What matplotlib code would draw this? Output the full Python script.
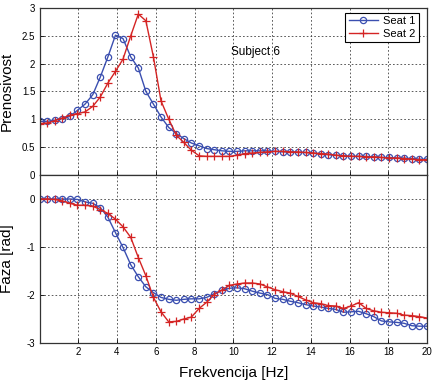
import matplotlib
matplotlib.use("Agg")
import matplotlib.pyplot as plt

freq = [0.00, 0.39, 0.78, 1.18, 1.57, 1.96, 2.35, 2.75, 3.14, 3.53, 3.92, 4.31, 4.71,
        5.10, 5.49, 5.88, 6.27, 6.67, 7.06, 7.45, 7.84, 8.24, 8.63, 9.02, 9.41, 9.80,
        10.20, 10.59, 10.98, 11.37, 11.76, 12.16, 12.55, 12.94, 13.33, 13.73, 14.12,
        14.51, 14.90, 15.29, 15.69, 16.08, 16.47, 16.86, 17.25, 17.65, 18.04, 18.43,
        18.82, 19.22, 19.61, 20.00]

seat1_mag = [0.96, 0.96, 0.98, 1.01, 1.05, 1.16, 1.27, 1.44, 1.76, 2.12, 2.51, 2.45, 2.12,
             1.92, 1.50, 1.27, 1.04, 0.85, 0.74, 0.65, 0.57, 0.52, 0.47, 0.45, 0.43,
             0.42, 0.42, 0.43, 0.43, 0.43, 0.43, 0.42, 0.41, 0.41, 0.40, 0.40, 0.39,
             0.37, 0.36, 0.35, 0.34, 0.33, 0.33, 0.33, 0.32, 0.31, 0.31, 0.30, 0.30,
             0.29, 0.28, 0.28]
seat2_mag = [0.92, 0.93, 0.97, 1.02, 1.07, 1.10, 1.13, 1.23, 1.40, 1.65, 1.86, 2.08, 2.50,
             2.89, 2.77, 2.12, 1.33, 1.00, 0.71, 0.58, 0.44, 0.34, 0.33, 0.33, 0.33,
             0.33, 0.35, 0.38, 0.39, 0.40, 0.41, 0.42, 0.42, 0.41, 0.41, 0.40, 0.39,
             0.38, 0.37, 0.35, 0.34, 0.33, 0.33, 0.32, 0.32, 0.31, 0.30, 0.30, 0.29,
             0.28, 0.27, 0.27]

seat1_ph = [0.00, 0.00, 0.00, 0.00, 0.00, -0.01, -0.06, -0.09, -0.18, -0.38, -0.70, -1.01,
            -1.37, -1.62, -1.83, -1.95, -2.05, -2.09, -2.11, -2.09, -2.08, -2.08, -2.05,
            -1.97, -1.90, -1.86, -1.85, -1.87, -1.92, -1.96, -1.99, -2.07, -2.09, -2.13,
            -2.16, -2.20, -2.23, -2.25, -2.28, -2.30, -2.36, -2.35, -2.34, -2.39, -2.45,
            -2.54, -2.56, -2.57, -2.59, -2.64, -2.65, -2.65]
seat2_ph = [0.00, 0.00, -0.01, -0.04, -0.09, -0.13, -0.13, -0.15, -0.22, -0.30, -0.42,
            -0.58, -0.80, -1.22, -1.60, -2.05, -2.35, -2.56, -2.55, -2.50, -2.46, -2.28,
            -2.15, -1.99, -1.90, -1.80, -1.77, -1.75, -1.75, -1.77, -1.83, -1.89, -1.93,
            -1.96, -2.03, -2.10, -2.16, -2.18, -2.22, -2.23, -2.28, -2.23, -2.16, -2.28,
            -2.33, -2.36, -2.37, -2.38, -2.42, -2.43, -2.45, -2.48]

labels = ["Seat 1", "Seat 2"]
xticks = [2, 4, 6, 8, 10, 12, 14, 16, 18, 20]

blue = "#3b4fb0"
red = "#d42424"

plt.rcParams['font.family'] = ['Liberation Sans', 'DejaVu Sans']

fig = plt.figure(figsize=(4.34, 3.81), dpi=100)
L, R = 39.5 / 434, 427 / 434
y_mid = 1 - 174.7 / 381
ax1 = fig.add_axes([L, y_mid, R - L, (1 - 8 / 381) - y_mid])
ax2 = fig.add_axes([L, 1 - 343 / 381, R - L, y_mid - (1 - 343 / 381)])

grid_kw = dict(color="0.25", linestyle=(0, (2, 2.5)), linewidth=0.6)

ax1.plot(freq, seat1_mag, color=blue, marker='o', mfc='none', ms=4.5, mew=0.9, lw=1.0,
         label=labels[0])
ax1.plot(freq, seat2_mag, color=red, marker='+', ms=5.5, mew=0.9, lw=1.0, label=labels[1])
ax1.set_xlim(0, 20)
ax1.set_ylim(0, 3)
ax1.set_xticks(xticks)
ax1.set_xticklabels([])
ax1.set_yticks([0, 0.5, 1, 1.5, 2, 2.5, 3])
ax1.set_yticklabels(["0", "0.5", "1", "1.5", "2", "2.5", "3"])
ax1.grid(True, **grid_kw)
ax1.text(9.9, 2.2, "Subject 6", fontsize=8.5, va='center', ha='left')
ax1.set_ylabel("Prenosivost", fontsize=11)
ax1.yaxis.set_label_coords(-0.066, 0.5)
leg = ax1.legend(loc='upper right', bbox_to_anchor=(0.985, 0.985), fontsize=8,
                 frameon=True, fancybox=False, framealpha=1, edgecolor='black',
                 handlelength=2.6, borderpad=0.3, labelspacing=0.25, handletextpad=0.5,
                 borderaxespad=0.2)
leg.get_frame().set_linewidth(0.8)

ax2.plot(freq, seat1_ph, color=blue, marker='o', mfc='none', ms=4.5, mew=0.9, lw=1.0)
ax2.plot(freq, seat2_ph, color=red, marker='+', ms=5.5, mew=0.9, lw=1.0)
ax2.set_xlim(0, 20)
ax2.set_ylim(-3, 0.506)
ax2.set_xticks(xticks)
ax2.set_xticklabels([str(t) for t in xticks])
ax2.set_yticks([-3, -2, -1, 0])
ax2.set_yticklabels(["-3", "-2", "-1", "0"])
ax2.grid(True, **grid_kw)
ax2.set_ylabel("Faza [rad]", fontsize=11)
ax2.yaxis.set_label_coords(-0.066, 0.5)
ax2.set_xlabel("Frekvencija [Hz]", fontsize=11)
ax2.xaxis.set_label_coords(0.5, -0.137)

for ax in (ax1, ax2):
    ax.tick_params(direction='in', length=3, width=0.6, labelsize=7, pad=3)
    for s in ax.spines.values():
        s.set_linewidth(0.9)
        s.set_color("0.2")

fig.savefig("out.png", dpi=100)
